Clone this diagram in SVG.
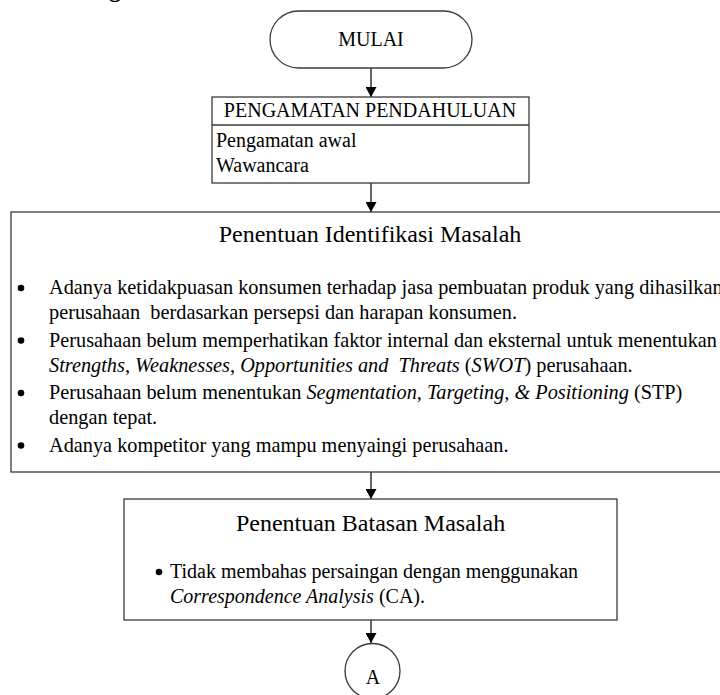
<svg xmlns="http://www.w3.org/2000/svg" width="720" height="695" viewBox="0 0 720 695">
<defs>
<marker id="arr" viewBox="0 0 10 11" refX="10" refY="5.5" markerWidth="10" markerHeight="11" markerUnits="userSpaceOnUse" orient="auto">
<path d="M0,0 L10,5.5 L0,11 Z" fill="#000"/>
</marker>
<style>
text{font-family:"Liberation Serif","Times New Roman",serif;fill:#000;}
.t20{font-size:20px;}
.b20{font-size:20.3px;}
.t24{font-size:24px;}
.box{fill:#fff;stroke:#3a3a3a;stroke-width:1.3;}
.con{stroke:#000;stroke-width:1.2;fill:none;}
.it{font-style:italic;}
</style>
</defs>
<rect width="720" height="695" fill="#fff"/>
<text x="109" y="-3" class="t24" font-weight="bold">g</text>
<g id="connectors">
<line class="con" x1="371" y1="68" x2="371" y2="97" marker-end="url(#arr)"/>
<line class="con" x1="371" y1="183" x2="371" y2="212" marker-end="url(#arr)"/>
<line class="con" x1="371" y1="472" x2="371" y2="499" marker-end="url(#arr)"/>
<line class="con" x1="371" y1="620" x2="371" y2="643" marker-end="url(#arr)"/>
</g>
<g id="mulai">
<rect class="box" x="270" y="11" width="202" height="57" rx="28.5" ry="28.5"/>
<text x="371" y="46" class="t20" text-anchor="middle">MULAI</text>
</g>
<g id="pengamatan">
<rect class="box" x="212" y="97" width="317" height="86"/>
<line class="box" x1="212" y1="125" x2="529" y2="125"/>
<text x="370" y="117" class="t20" text-anchor="middle">PENGAMATAN PENDAHULUAN</text>
<text x="216" y="147" class="t20">Pengamatan awal</text>
<text x="216" y="172" class="t20">Wawancara</text>
</g>
<g id="identifikasi">
<rect class="box" x="11" y="212" width="730" height="260"/>
<text x="370" y="242" class="t24" text-anchor="middle">Penentuan Identifikasi Masalah</text>
<circle cx="21" cy="288" r="3.3"/>
<circle cx="21" cy="340.5" r="3.3"/>
<circle cx="21" cy="393" r="3.3"/>
<circle cx="21" cy="445.5" r="3.3"/>
<text x="49" y="294" class="b20">Adanya ketidakpuasan konsumen terhadap jasa pembuatan produk yang dihasilkan</text>
<text x="49" y="319" class="b20" xml:space="preserve">perusahaan  berdasarkan persepsi dan harapan konsumen.</text>
<text x="49" y="346.5" class="b20">Perusahaan belum memperhatikan faktor internal dan eksternal untuk menentukan</text>
<text x="49" y="371.5" class="b20" xml:space="preserve"><tspan class="it">Strengths</tspan>, <tspan class="it">Weaknesses</tspan>, <tspan class="it">Opportunities and  Threats</tspan> (<tspan class="it">SWOT</tspan>) perusahaan.</text>
<text x="49" y="399" class="b20">Perusahaan belum menentukan <tspan class="it">Segmentation, Targeting, &amp; Positioning</tspan> (STP)</text>
<text x="49" y="424" class="b20">dengan tepat.</text>
<text x="49" y="451.5" class="b20">Adanya kompetitor yang mampu menyaingi perusahaan.</text>
</g>
<g id="batasan">
<rect class="box" x="124" y="499" width="493" height="121"/>
<text x="370.5" y="531" class="t24" text-anchor="middle">Penentuan Batasan Masalah</text>
<circle cx="159" cy="572" r="3.3"/>
<text x="170" y="578" class="t20">Tidak membahas persaingan dengan menggunakan</text>
<text x="170" y="603" class="t20"><tspan class="it">Correspondence Analysis</tspan> (CA).</text>
</g>
<g id="konektor-a">
<circle class="box" cx="372.5" cy="671" r="27.5"/>
<text x="373" y="684" class="t20" text-anchor="middle">A</text>
</g>
</svg>
